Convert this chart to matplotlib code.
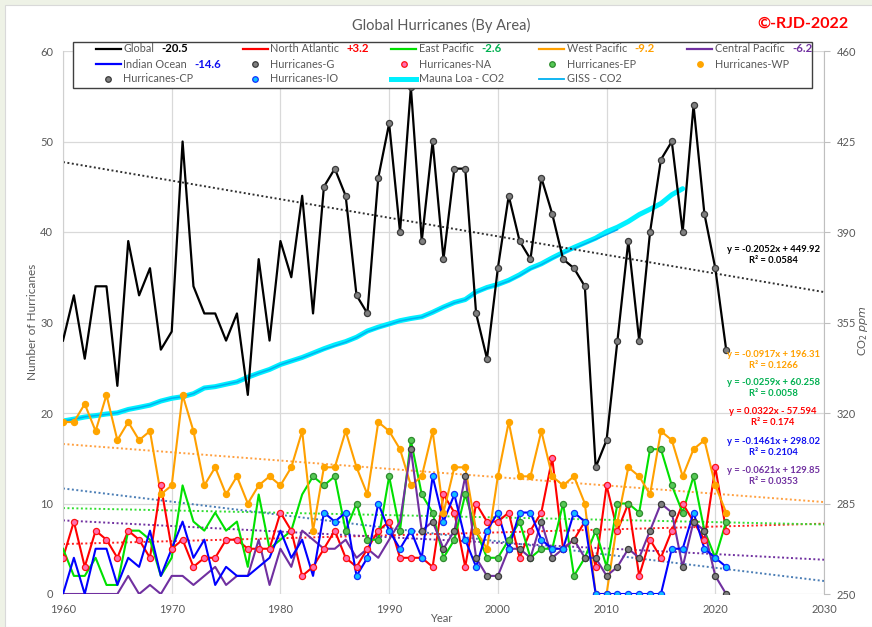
import numpy as np
import matplotlib
matplotlib.use("Agg")
import matplotlib.pyplot as plt
from matplotlib.lines import Line2D
from matplotlib.patches import Rectangle

# ---- data ----
years = list(range(1960, 2022))

global_hur = [28, 33, 26, 34, 34, 23, 39, 33, 36, 27,
              29, 50, 34, 31, 31, 28, 31, 22, 37, 28,
              39, 35, 44, 31, 45, 47, 44, 33, 31, 46,
              52, 40, 56, 39, 50, 37, 47, 47, 31, 26,
              36, 44, 39, 37, 46, 42, 37, 36, 34, 14,
              17, 28, 39, 28, 40, 48, 50, 40, 54, 42,
              36, 27]
north_atlantic = [4, 8, 3, 7, 6, 4, 7, 6, 4, 12,
                  5, 6, 3, 4, 4, 6, 6, 5, 5, 5,
                  9, 7, 2, 3, 5, 7, 4, 3, 5, 7,
                  8, 4, 4, 4, 3, 11, 9, 3, 10, 8,
                  8, 9, 4, 7, 9, 15, 5, 6, 8, 3,
                  12, 7, 10, 2, 6, 4, 7, 10, 8, 6,
                  14, 7]
east_pacific = [5, 2, 2, 4, 1, 1, 7, 7, 6, 2,
                4, 12, 8, 7, 9, 7, 8, 3, 11, 5,
                6, 7, 11, 13, 12, 13, 7, 10, 6, 6,
                13, 7, 17, 11, 9, 4, 6, 11, 7, 4,
                4, 6, 8, 4, 5, 5, 10, 2, 4, 7,
                3, 10, 10, 9, 16, 16, 12, 9, 13, 7,
                4, 8]
west_pacific = [19, 19, 21, 18, 22, 17, 19, 17, 18, 11,
                12, 22, 18, 12, 14, 11, 13, 10, 12, 13,
                12, 14, 18, 7, 14, 14, 18, 14, 11, 19,
                18, 16, 12, 13, 18, 9, 14, 14, 7, 5,
                13, 19, 13, 13, 18, 13, 12, 13, 10, 0,
                0, 8, 14, 13, 11, 18, 17, 13, 16, 17,
                12, 9]
central_pacific = [0, 0, 0, 0, 0, 0, 2, 0, 1, 0,
                   2, 2, 1, 2, 3, 1, 2, 2, 6, 1,
                   5, 3, 7, 6, 5, 5, 6, 4, 5, 4,
                   6, 8, 16, 7, 8, 5, 7, 13, 4, 2,
                   2, 5, 5, 4, 8, 4, 5, 6, 4, 4,
                   2, 3, 5, 4, 7, 10, 9, 3, 8, 7,
                   2, 0]
indian_ocean = [0, 4, 0, 5, 5, 1, 4, 3, 7, 2,
                5, 8, 4, 6, 1, 3, 2, 2, 3, 4,
                7, 4, 6, 2, 9, 8, 9, 2, 4, 10,
                7, 5, 7, 4, 13, 8, 11, 6, 3, 7,
                9, 5, 9, 9, 6, 5, 5, 9, 8, 0,
                0, 0, 0, 0, 0, 0, 5, 5, 9, 5,
                4, 3]

# first year carrying a marker, per series
marker_start = {"G": 1984, "NA": 1960, "EP": 1983, "WP": 1960, "CP": 1992, "IO": 1984}

# CO2 (right axis, ppm)
ml_years = list(range(1960, 2018))
mauna_loa = [316.91, 317.64, 318.45, 318.99, 319.62, 320.04, 321.37, 322.18, 323.05, 324.62,
             325.68, 326.32, 327.46, 329.68, 330.19, 331.13, 332.03, 333.84, 335.41, 336.84,
             338.76, 340.12, 341.48, 343.15, 344.85, 346.35, 347.61, 349.31, 351.69, 353.20,
             354.45, 355.70, 356.54, 357.21, 358.96, 360.97, 362.74, 363.88, 366.84, 368.54,
             369.71, 371.32, 373.45, 375.98, 377.70, 379.98, 382.09, 384.02, 385.83, 387.64,
             390.10, 391.85, 394.06, 396.74, 398.81, 401.01, 404.41, 406.76]
giss_years = list(range(1960, 2012))
giss_co2 = [316.9, 317.6, 318.5, 319.0, 319.5, 320.1, 321.3, 322.1, 323.1, 324.6,
            325.7, 326.3, 327.5, 329.7, 330.2, 331.1, 332.0, 333.8, 335.4, 336.8,
            338.7, 340.1, 341.4, 343.0, 344.6, 346.0, 347.4, 349.2, 351.5, 352.9,
            354.2, 355.6, 356.4, 357.1, 358.9, 360.9, 362.6, 363.8, 366.6, 368.3,
            369.5, 371.0, 373.1, 375.6, 377.4, 379.6, 381.7, 383.6, 385.4, 387.2,
            389.0, 390.9]

# trendlines as printed on the chart: Global, NA, EP, WP, CP, IO
trend_slope = [-0.2052, 0.0322, -0.0259, -0.0917, -0.0621, -0.1461]
trend_icept = [449.92, -57.594, 60.258, 196.31, 129.85, 298.02]
trend_text = ["y = -0.2052x + 449.92\nR² = 0.0584",
              "y = 0.0322x - 57.594\nR² = 0.174",
              "y = -0.0259x + 60.258\nR² = 0.0058",
              "y = -0.0917x + 196.31\nR² = 0.1266",
              "y = -0.0621x + 129.85\nR² = 0.0353",
              "y = -0.1461x + 298.02\nR² = 0.2104"]
legend_change = ["-20.5", "+3.2", "-2.6", "-9.2", "-6.2", "-14.6"]

series_names = ["Global", "North Atlantic", "East Pacific", "West Pacific", "Central Pacific", "Indian Ocean"]
series_vals = [global_hur, north_atlantic, east_pacific, west_pacific, central_pacific, indian_ocean]
series_keys = ["G", "NA", "EP", "WP", "CP", "IO"]
line_col = ["#000000", "#FF0000", "#00E000", "#FFA000", "#7030A0", "#0000FF"]
trend_col = ["#303030", "#FF2020", "#33DD33", "#FFA040", "#7030A0", "#4A7DB5"]
text_col = ["#000000", "#FF0000", "#00B050", "#FFA000", "#7030A0", "#1010F0"]
mk_face = ["#808080", "#FF6FB0", "#55C855", "#FFA500", "#808080", "#10C0FF"]
mk_edge = ["#3A3A3A", "#FF1010", "#2E8B2E", "#FFA500", "#3A3A3A", "#1030FF"]

GRAY = "#595959"
W, H = 872, 627
plt.rcParams["font.family"] = ["Lato", "DejaVu Sans"]


def fx(px):
    return px / W


def fy(py):
    return 1 - py / H


fig = plt.figure(figsize=(8.72, 6.27), dpi=100, facecolor="#EEF2E6")
fig.patches.append(Rectangle((fx(5), 0), 1, fy(5), transform=fig.transFigure,
                             facecolor="white", edgecolor="#D9D9D9", lw=0.8, zorder=-10))

ax = fig.add_axes([fx(63), fy(594), 761 / W, 543 / H])
ax2 = ax.twinx()
ax.set_zorder(2)
ax2.set_zorder(1)
ax.patch.set_visible(False)

# CO2 on the right axis
ax2.plot(ml_years, mauna_loa, color="#00F0FF", lw=3.6, solid_capstyle="round", zorder=2)
ax2.plot(giss_years, giss_co2, color="#00B0F0", lw=1.1, zorder=3)
ax2.set_ylim(250, 460)
ax2.set_yticks(range(250, 461, 35))

# grid lives on the lower axis so the CO2 line sits above it
ax2.xaxis.set_visible(True)
ax2.tick_params(axis="x", bottom=False, top=False, labelbottom=False, labeltop=False)
ax2.grid(True, color="#D9D9D9", lw=0.9, zorder=0)
ax2.set_axisbelow(True)

# hurricanes
for i, vals in enumerate(series_vals):
    ax.plot(years, vals, color=line_col[i], lw=1.6 if i == 0 else 1.5, zorder=3)
for i, vals in enumerate(series_vals):
    s = years.index(marker_start[series_keys[i]])
    ax.plot(years[s:], vals[s:], ls="none", marker="o", ms=4.4,
            mfc=mk_face[i], mec=mk_edge[i], mew=0.9, zorder=4)
trend_x = np.array([1960, 2030])
for i in range(6):
    ax.plot(trend_x, trend_slope[i] * trend_x + trend_icept[i], color=trend_col[i],
            lw=1.4, ls=(0, (1, 1.3)), zorder=2.5)

ax.set_xlim(1960, 2030)
ax.set_ylim(0, 60)
ax.set_xticks(range(1960, 2031, 10))
ax.set_yticks(range(0, 61, 10))
ax.tick_params(axis="both", length=0, labelsize=8, labelcolor=GRAY)
ax.tick_params(axis="y", pad=7)
ax.tick_params(axis="x", pad=7)
ax2.tick_params(axis="y", length=4, color="#BFBFBF", direction="out", labelsize=8,
                labelcolor=GRAY, pad=5)
for a in (ax, ax2):
    a.spines["top"].set_visible(False)
    a.spines["bottom"].set_visible(False)
ax.spines["right"].set_visible(False)
ax2.spines["left"].set_visible(False)
ax.spines["left"].set_color("#D0D0D0")
ax2.spines["right"].set_color("#BFBFBF")

# titles / labels
fig.text(fx(441), fy(25), "Global Hurricanes (By Area)", ha="center", va="center",
         fontsize=10.5, color=GRAY)
fig.text(fx(803), fy(24), "©-RJD-2022", ha="center", va="center", fontsize=11.5,
         fontweight="bold", color="#FF0000")
fig.text(fx(32), fy(322), "Number of Hurricanes", rotation=90, ha="center", va="center",
         fontsize=8.5, color=GRAY)
fig.text(fx(863), fy(331), "CO$_2$ $ppm$", rotation=90, ha="center", va="center",
         fontsize=8, color=GRAY)
fig.text(fx(441), fy(619), "Year", ha="center", va="center", fontsize=8, color=GRAY)

# trendline equations
eq_y = [249, 411, 382, 354, 470, 441]
for i in range(6):
    fig.text(fx(773), fy(eq_y[i] + 6), trend_text[i], ha="center", va="center",
             fontsize=6.8, fontweight="bold", color=text_col[i], linespacing=1.25)

# legend, drawn by hand so the columns are evenly spaced
fig.patches.append(Rectangle((fx(72.7), fy(87.7)), (812.3 - 72.7) / W, (87.7 - 42.3) / H,
                             transform=fig.transFigure, facecolor="white",
                             edgecolor="#404040", lw=1.0, zorder=5))
col_x = [95.7, 242.7, 391, 539, 687.3]
row_y = [49, 64.3, 79]
hlen = 25

entries = []
for i in range(6):
    entries.append((series_names[i], "line", dict(color=line_col[i], lw=1.6)))
for i in range(6):
    entries.append(("Hurricanes-" + series_keys[i], "marker",
                    dict(marker="o", ms=4.0, mfc=mk_face[i], mec=mk_edge[i], mew=0.9, ls="none")))
entries.append(("Mauna Loa - CO2", "line", dict(color="#00F0FF", lw=3.6)))
entries.append(("GISS - CO2", "line", dict(color="#00B0F0", lw=1.3)))

label_texts = []
for k, (label, kind, style) in enumerate(entries):
    r, c = divmod(k, 5)
    x0, y0 = col_x[c], row_y[r]
    if kind == "line":
        h = Line2D([fx(x0), fx(x0 + hlen)], [fy(y0), fy(y0)], transform=fig.transFigure,
                   zorder=6, **style)
    else:
        h = Line2D([fx(x0 + hlen / 2)], [fy(y0)], transform=fig.transFigure, zorder=6, **style)
    fig.lines.append(h)
    t = fig.text(fx(x0 + hlen + 2.5), fy(y0), label, ha="left", va="center", fontsize=7.8,
                 color=GRAY, zorder=7)
    label_texts.append((t, y0))

# bold change figures placed just after the series names
fig.canvas.draw()
for k in range(6):
    t, y0 = label_texts[k]
    bb = t.get_window_extent()
    fig.text(fx(bb.x1 + 7.5), fy(y0), legend_change[k], ha="left", va="center", fontsize=8.2,
             fontweight="bold", color=text_col[k], zorder=7)

fig.savefig("out.png", dpi=100)
